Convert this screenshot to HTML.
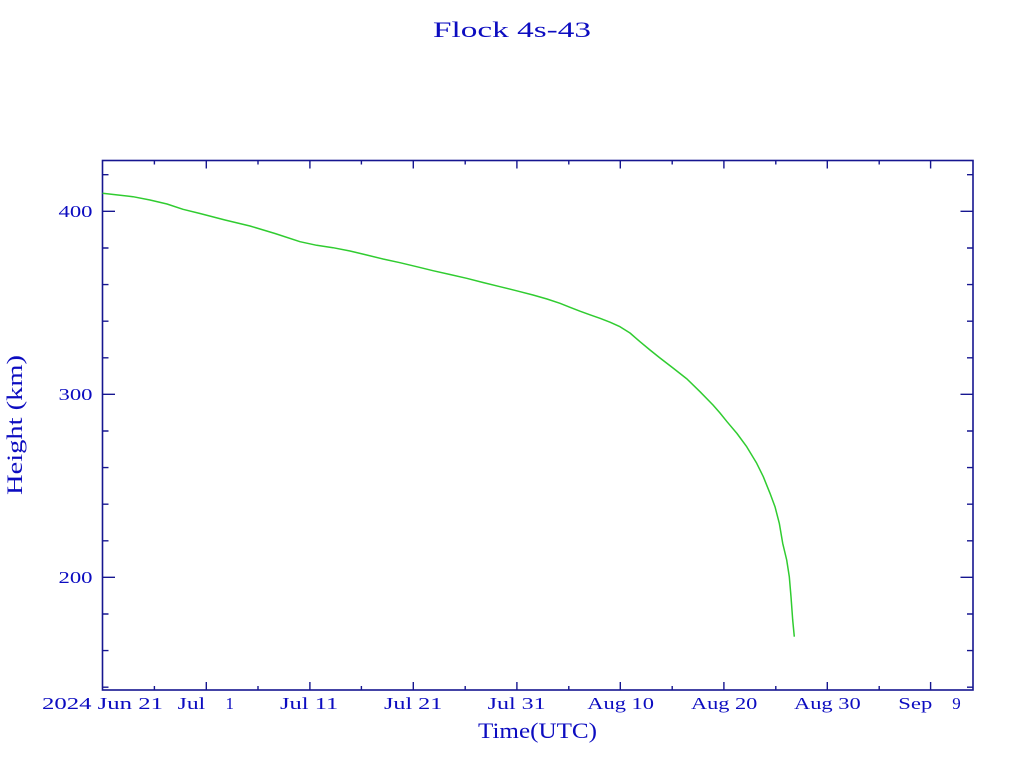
<!DOCTYPE html>
<html>
<head>
<meta charset="utf-8">
<style>
html,body{margin:0;padding:0;background:#fff;}
svg{display:block;}
text{font-family:"Liberation Serif",serif;fill:#0c0cc0;}
</style>
</head>
<body>
<svg width="1024" height="768" viewBox="0 0 1024 768" xmlns="http://www.w3.org/2000/svg">
<rect x="0" y="0" width="1024" height="768" fill="#fff"/>

<!-- title -->
<text x="433" y="37" font-size="22" textLength="158" lengthAdjust="spacingAndGlyphs">Flock 4s-43</text>

<!-- frame -->
<rect x="102.5" y="160.5" width="870.5" height="529.5" fill="none" stroke="#161690" stroke-width="1.6"/>

<g stroke="#161690" stroke-width="1.4">
<path d="M206.3 690v-8M309.9 690v-8M413.3 690v-8M516.9 690v-8M620.3 690v-8M723.9 690v-8M827.3 690v-8M930.6 690v-8"/>
<path d="M154.4 690v-4M258 690v-4M361.4 690v-4M465.2 690v-4M568.8 690v-4M672.2 690v-4M775.8 690v-4M879.2 690v-4"/>
<path d="M206.3 160.5v8M309.9 160.5v8M413.3 160.5v8M516.9 160.5v8M620.3 160.5v8M723.9 160.5v8M827.3 160.5v8M930.6 160.5v8"/>
<path d="M154.4 160.5v4M258 160.5v4M361.4 160.5v4M465.2 160.5v4M568.8 160.5v4M672.2 160.5v4M775.8 160.5v4M879.2 160.5v4"/>
<path d="M102.5 211.3h12.5M102.5 394.3h12.5M102.5 577.3h12.5"/>
<path d="M102.5 174.7h6M102.5 248h6M102.5 284.6h6M102.5 321.2h6M102.5 357.8h6M102.5 431h6M102.5 467.6h6M102.5 504.2h6M102.5 540.8h6M102.5 614h6M102.5 650.6h6M102.5 687.2h6"/>
<path d="M973 211.3h-12.5M973 394.3h-12.5M973 577.3h-12.5"/>
<path d="M973 174.7h-6M973 248h-6M973 284.6h-6M973 321.2h-6M973 357.8h-6M973 431h-6M973 467.6h-6M973 504.2h-6M973 540.8h-6M973 614h-6M973 650.6h-6M973 687.2h-6"/>
</g>

<!-- y tick labels -->
<text x="58.5" y="217" font-size="17" textLength="34" lengthAdjust="spacingAndGlyphs">400</text>
<text x="58.5" y="400" font-size="17" textLength="34" lengthAdjust="spacingAndGlyphs">300</text>
<text x="58.5" y="583" font-size="17" textLength="34" lengthAdjust="spacingAndGlyphs">200</text>

<!-- x tick labels -->
<text x="42" y="709" font-size="17" textLength="121" lengthAdjust="spacingAndGlyphs">2024 Jun 21</text>
<text x="177.7" y="709" font-size="17" textLength="27.5" lengthAdjust="spacingAndGlyphs">Jul</text>
<text x="225.5" y="709" font-size="17">1</text>
<text x="280" y="709" font-size="17" textLength="58.3" lengthAdjust="spacingAndGlyphs">Jul 11</text>
<text x="384" y="709" font-size="17" textLength="58.3" lengthAdjust="spacingAndGlyphs">Jul 21</text>
<text x="487.7" y="709" font-size="17" textLength="58" lengthAdjust="spacingAndGlyphs">Jul 31</text>
<text x="587.3" y="709" font-size="17" textLength="66.7" lengthAdjust="spacingAndGlyphs">Aug 10</text>
<text x="691" y="709" font-size="17" textLength="66.3" lengthAdjust="spacingAndGlyphs">Aug 20</text>
<text x="794" y="709" font-size="17" textLength="66.7" lengthAdjust="spacingAndGlyphs">Aug 30</text>
<text x="898.3" y="709" font-size="17" textLength="34" lengthAdjust="spacingAndGlyphs">Sep</text>
<text x="952.3" y="709" font-size="17">9</text>

<!-- axis labels -->
<text x="478" y="738" font-size="22" textLength="119" lengthAdjust="spacingAndGlyphs">Time(UTC)</text>
<text transform="translate(22,495) rotate(-90)" x="0" y="0" font-size="22" textLength="140" lengthAdjust="spacingAndGlyphs">Height (km)</text>

<!-- data series -->
<polyline fill="none" stroke="#30cc30" stroke-width="1.5" stroke-linejoin="round"
points="102.5,193.3 118,195 133,196.7 150,200 167,204 183,209.3 200,213.5 225,220 250,226 275,233.5 300,241.7 316.7,245.3 333,247.7 350,251 366.7,255 383,259 400,262.7 416.7,266.7 433,270.7 450,274.5 466.7,278.3 483,282.5 500,286.7 516.7,290.8 533,295 547,299 560,303.3 570,307.3 580,311.2 590,314.8 600,318.3 610,322.2 620,326.7 630,333 640,341.7 650,350 660,358 673,368 687,379 700,391.7 713,405 720,413 727,421.7 737,433.5 746.7,446.7 756.7,463.3 763.3,476.7 770,493.3 775,506.7 779.3,523.3 782.7,543.3 786.7,560 789.3,576.7 791,596.7 792.7,620 794.3,636.7"/>
</svg>
</body>
</html>
